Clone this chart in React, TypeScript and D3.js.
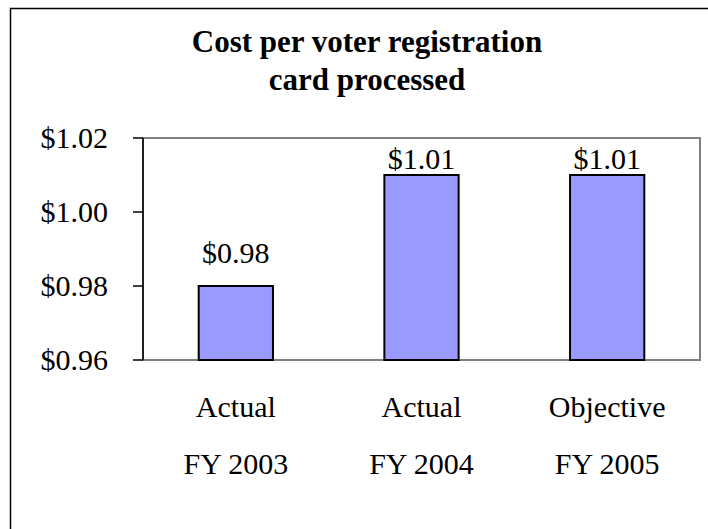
import * as d3 from 'd3';

const categories = ['Actual|FY 2003', 'Actual|FY 2004', 'Objective|FY 2005'];
const values = [0.98, 1.01, 1.01];
const yTicks = [0.96, 0.98, 1.0, 1.02];
const titleLines = ['Cost per voter registration', 'card processed'];

const W = 708;
const H = 529;
const plot = { left: 143, right: 700, top: 138, bottom: 360 };
const font = '"Times New Roman", "Liberation Serif", serif';
const money = (v: number) => '$' + v.toFixed(2);

export default function App() {
  const x = d3
    .scaleBand<string>()
    .domain(categories)
    .range([plot.left, plot.right])
    .paddingInner(0.6)
    .paddingOuter(0.3);
  const y = d3.scaleLinear().domain([0.96, 1.02]).range([plot.bottom, plot.top]);

  return (
    <svg
      width={W}
      height={H}
      style={{ position: 'absolute', left: 0, top: 0, background: '#fff' }}
      fontFamily={font}
    >
      {/* outer chart frame, runs off the right and bottom edge */}
      <rect x={10.5} y={8.5} width={714} height={540} fill="#fff" stroke="#000" strokeWidth={1.5} />

      {titleLines.map((t, i) => (
        <text key={t} x={367} y={52 + i * 38} textAnchor="middle" fontSize={31} fontWeight="bold">
          {t}
        </text>
      ))}

      {/* plot area border */}
      <rect
        x={plot.left}
        y={plot.top}
        width={plot.right - plot.left}
        height={plot.bottom - plot.top}
        fill="#fff"
        stroke="#808080"
        strokeWidth={2}
      />

      {values.map((v, i) => {
        const bx = x(categories[i])!;
        const by = y(v);
        const labelY = Math.max(by - 23, plot.top + 31);
        return (
          <g key={i}>
            <rect
              x={bx}
              y={by}
              width={x.bandwidth()}
              height={plot.bottom - by}
              fill="#9999FF"
              stroke="#000"
              strokeWidth={2}
            />
            <text x={bx + x.bandwidth() / 2} y={labelY} textAnchor="middle" fontSize={30}>
              {money(v)}
            </text>
          </g>
        );
      })}

      {/* value axis */}
      <line x1={plot.left} x2={plot.left} y1={plot.top} y2={plot.bottom} stroke="#000" strokeWidth={1.5} />
      {yTicks.map((t) => (
        <g key={t}>
          <line x1={plot.left - 10} x2={plot.left} y1={y(t)} y2={y(t)} stroke="#000" strokeWidth={1.5} />
          <text x={108} y={y(t) + 10} textAnchor="end" fontSize={30}>
            {money(t)}
          </text>
        </g>
      ))}

      {categories.map((c) => {
        const cx = x(c)! + x.bandwidth() / 2;
        return c.split('|').map((line, j) => (
          <text key={c + j} x={cx} y={417 + j * 57} textAnchor="middle" fontSize={30}>
            {line}
          </text>
        ));
      })}
    </svg>
  );
}
